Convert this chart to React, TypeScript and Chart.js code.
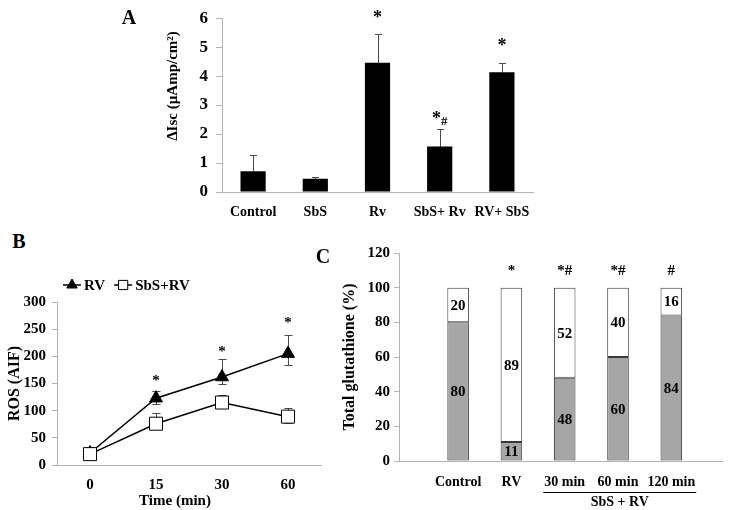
import React, { useEffect, useRef } from 'react';
import { Chart, registerables } from 'chart.js';
import { drawPoint } from 'chart.js/helpers';

Chart.register(...registerables);

const FONT = '"Liberation Serif", "Times New Roman", serif';
const AXIS = '#b3b3b3';
const ERR = '#4a4a4a';

// ---------- Panel A ----------
const aCategories = ['Control', 'SbS', 'Rv', 'SbS+ Rv', 'RV+ SbS'];
const aValues = [0.72, 0.46, 4.46, 1.57, 4.13];
const aErrPlus = [0.56, 0.06, 1.0, 0.59, 0.33];
const aMarks = ['', '', '*', '*#', '*'];
const aMarkLevels = [null, null, 6.1, 2.62, 5.15];
const aYTitle = 'ΔIsc (µAmp/cm²)';

// ---------- Panel B ----------
const bTimes = ['0', '15', '30', '60'];
const bRV = [22, 123, 162, 205];
const bRVPlus = [11, 13, 34, 35];
const bRVMinus = [0, 10, 13, 21];
const bSbSRV = [20, 76, 115, 89];
const bSbSRVPlus = [5, 20, 13, 16];
const bSbSRVMinus = [0, 0, 0, 11];
const bMarks = ['', '*', '*', '*'];
const bMarkLevels = [null, 160, 213, 267];
const bSeriesNames = ['RV', 'SbS+RV'];
const bXTitle = 'Time (min)';

// ---------- Panel C ----------
const cCategories = ['Control', 'RV', '30 min', '60 min', '120 min'];
const cReduced = [80, 11, 48, 60, 84];
const cOxidized = [20, 89, 52, 40, 16];
const cMarks = ['', '*', '*#', '*#', '#'];
const cMarkLevel = 111;
const cGroupLabel = 'SbS + RV';
const cGroupFrom = 2;
const cGroupTo = 4;

const bold = (size: number) => ({ family: FONT, size, weight: 'bold' as const });

function drawMark(ctx: CanvasRenderingContext2D, text: string, x: number, y: number, starPx: number, hashPx: number, hashDrop: number) {
  const parts = text.split('').map((c) => {
    const size = c === '*' ? starPx : hashPx;
    ctx.font = `bold ${size}px ${FONT}`;
    return { c, size, w: ctx.measureText(c).width };
  });
  const total = parts.reduce((s, p) => s + p.w, 0);
  const maxSize = Math.max(...parts.map((p) => p.size));
  const base = y + 0.45 * maxSize;
  let cx = x - total / 2;
  ctx.fillStyle = '#000';
  ctx.textAlign = 'left';
  ctx.textBaseline = 'alphabetic';
  for (const p of parts) {
    ctx.font = `bold ${p.size}px ${FONT}`;
    ctx.fillText(p.c, cx, base + (p.c === '#' ? hashDrop : 0));
    cx += p.w;
  }
}

function marksPlugin(id: string, marks: string[], levels: (number | null)[], starPx: number, hashPx: number, hashDrop: number) {
  return {
    id,
    afterDraw(chart: any) {
      const ctx = chart.ctx;
      const xs = chart.scales.x;
      const ys = chart.scales.y;
      ctx.save();
      marks.forEach((m, i) => {
        const lv = levels[i];
        if (!m || lv === null || lv === undefined) return;
        drawMark(ctx, m, xs.getPixelForValue(i), ys.getPixelForValue(lv), starPx, hashPx, hashDrop);
      });
      ctx.restore();
    },
  };
}

type ErrSpec = { values: number[]; plus: number[]; minus: number[] };
function errorBarsPlugin(id: string, specs: ErrSpec[], cap: number) {
  return {
    id,
    beforeDatasetsDraw(chart: any) {
      const ctx = chart.ctx;
      const xs = chart.scales.x;
      const ys = chart.scales.y;
      ctx.save();
      ctx.strokeStyle = ERR;
      ctx.lineWidth = 1;
      specs.forEach((s) => {
        s.values.forEach((v, i) => {
          const x = Math.round(xs.getPixelForValue(i)) + 0.5;
          const top = Math.round(ys.getPixelForValue(v + s.plus[i])) + 0.5;
          const bot = Math.round(ys.getPixelForValue(v - s.minus[i])) + 0.5;
          ctx.beginPath();
          ctx.moveTo(x, bot);
          ctx.lineTo(x, top);
          if (s.plus[i] > 0) {
            ctx.moveTo(x - cap / 2, top);
            ctx.lineTo(x + cap / 2, top);
          }
          if (s.minus[i] > 0) {
            ctx.moveTo(x - cap / 2, bot);
            ctx.lineTo(x + cap / 2, bot);
          }
          ctx.stroke();
        });
      });
      ctx.restore();
    },
  };
}

// free-standing axis title (placed where the figure has it, not at the axis centre)
function freeTitlePlugin(id: string, text: string, x: number, y: number, size: number, rotate: boolean) {
  return {
    id,
    afterDraw(chart: any) {
      const ctx = chart.ctx;
      ctx.save();
      ctx.translate(x, y);
      if (rotate) ctx.rotate(-Math.PI / 2);
      ctx.font = `bold ${size}px ${FONT}`;
      ctx.fillStyle = '#000';
      ctx.textAlign = 'center';
      ctx.textBaseline = 'middle';
      ctx.fillText(text, 0, 0);
      ctx.restore();
    },
  };
}

function makeA(): any {
  return {
    type: 'bar',
    data: {
      labels: aCategories,
      datasets: [
        { data: aValues, backgroundColor: '#000', borderWidth: 0, barPercentage: 0.9, categoryPercentage: 0.45 },
      ],
    },
    options: {
      responsive: false,
      animation: false,
      layout: { padding: { top: 9, right: 17, left: 0, bottom: 0 }, autoPadding: false },
      plugins: { legend: { display: false }, tooltip: { enabled: false } },
      scales: {
        x: {
          grid: { display: false, drawTicks: false },
          border: { color: AXIS },
          ticks: { font: bold(14), color: '#000', padding: 12, maxRotation: 0, autoSkip: false },
          afterFit: (s: any) => { s.height = 40; },
        },
        y: {
          min: 0,
          max: 6,
          ticks: { stepSize: 1, font: bold(17), color: '#000', padding: 8 },
          grid: { drawOnChartArea: false, tickLength: 6, color: AXIS },
          border: { color: AXIS },
          afterFit: (s: any) => { s.width = 122; },
        },
      },
    },
    plugins: [
      errorBarsPlugin('errA', [{ values: aValues, plus: aErrPlus, minus: aValues.map(() => 0) }], 7),
      marksPlugin('marksA', aMarks, aMarkLevels, 18, 13, 1),
      freeTitlePlugin('titleA', aYTitle, 73, 86, 15, true),
    ],
  };
}

const legendLinePlugin = {
  id: 'legendLineB',
  afterDraw(chart: any) {
    const ctx = chart.ctx;
    ctx.save();
    let x = 63;
    const y = 30;
    chart.data.datasets.forEach((ds: any) => {
      ctx.strokeStyle = '#000';
      ctx.lineWidth = 1.5;
      ctx.beginPath();
      ctx.moveTo(x, y);
      ctx.lineTo(x + 18, y);
      ctx.stroke();
      ctx.fillStyle = ds.pointBackgroundColor;
      ctx.strokeStyle = '#000';
      ctx.lineWidth = 1;
      drawPoint(ctx, { pointStyle: ds.pointStyle, rotation: 0, radius: ds.pointStyle === 'rect' ? 6.5 : 6, borderWidth: 1 }, x + 9, y);
      ctx.font = `bold 15px ${FONT}`;
      ctx.fillStyle = '#000';
      ctx.textAlign = 'left';
      ctx.textBaseline = 'middle';
      ctx.fillText(ds.label, x + 21, y + 1);
      x += 21 + ctx.measureText(ds.label).width + 9;
    });
    ctx.restore();
  },
};

function makeB(): any {
  return {
    type: 'line',
    data: {
      labels: bTimes,
      datasets: [
        {
          label: bSeriesNames[0], data: bRV, borderColor: '#000', borderWidth: 1.5,
          pointStyle: 'triangle', pointRadius: 7.5, pointBackgroundColor: '#000', pointBorderColor: '#000', pointBorderWidth: 1, order: 2,
        },
        {
          label: bSeriesNames[1], data: bSbSRV, borderColor: '#000', borderWidth: 1.5,
          pointStyle: 'rect', pointRadius: 9.2, pointBackgroundColor: '#fff', pointBorderColor: '#000', pointBorderWidth: 1, order: 1,
        },
      ],
    },
    options: {
      responsive: false,
      animation: false,
      layout: { padding: { top: 47, right: 9, left: 0, bottom: 0 }, autoPadding: false },
      plugins: { legend: { display: false }, tooltip: { enabled: false } },
      scales: {
        x: {
          offset: true,
          grid: { display: false, drawTicks: false },
          border: { color: AXIS },
          ticks: { font: bold(15), color: '#000', padding: 11, maxRotation: 0, autoSkip: false },
          afterFit: (s: any) => { s.height = 45; },
        },
        y: {
          min: 0,
          max: 300,
          ticks: { stepSize: 50, font: bold(15), color: '#000', padding: 6 },
          grid: { drawOnChartArea: false, tickLength: 5, color: AXIS },
          border: { color: AXIS },
          title: { display: true, text: 'ROS (AIF)', font: bold(16), color: '#000', padding: { top: 5, bottom: 0 } },
          afterFit: (s: any) => { s.width = 57; },
        },
      },
    },
    plugins: [
      errorBarsPlugin('errB', [
        { values: bRV, plus: bRVPlus, minus: bRVMinus },
        { values: bSbSRV, plus: bSbSRVPlus, minus: bSbSRVMinus },
      ], 8),
      marksPlugin('marksB', bMarks, bMarkLevels, 15, 15, 0),
      legendLinePlugin,
      freeTitlePlugin('titleBx', bXTitle, 175, 246, 15, false),
    ],
  };
}

const segmentLabelsPlugin = {
  id: 'segLabelsC',
  afterDatasetsDraw(chart: any) {
    const ctx = chart.ctx;
    ctx.save();
    ctx.font = `bold 15px ${FONT}`;
    ctx.fillStyle = '#000';
    ctx.textAlign = 'center';
    ctx.textBaseline = 'middle';
    chart.data.datasets.forEach((ds: any, di: number) => {
      const meta = chart.getDatasetMeta(di);
      meta.data.forEach((el: any, i: number) => {
        const v = ds.data[i].y;
        ctx.fillText(String(v), el.x, (el.y + el.base) / 2 + 1);
      });
    });
    ctx.restore();
  },
};

const groupLabelPlugin = {
  id: 'groupC',
  afterDraw(chart: any) {
    const ctx = chart.ctx;
    const xs = chart.scales.x;
    const bottom = chart.chartArea.bottom;
    ctx.save();
    ctx.font = `bold 14px ${FONT}`;
    const w1 = ctx.measureText(cCategories[cGroupFrom]).width;
    const w2 = ctx.measureText(cCategories[cGroupTo]).width;
    const x1 = xs.getPixelForValue(cGroupFrom) - w1 / 2 - 1;
    const x2 = xs.getPixelForValue(cGroupTo) + w2 / 2 + 1;
    ctx.strokeStyle = '#000';
    ctx.lineWidth = 1;
    ctx.beginPath();
    ctx.moveTo(x1, bottom + 31.5);
    ctx.lineTo(x2, bottom + 31.5);
    ctx.stroke();
    ctx.fillStyle = '#000';
    ctx.textAlign = 'center';
    ctx.textBaseline = 'middle';
    ctx.fillText(cGroupLabel, (x1 + x2) / 2, bottom + 41);
    ctx.restore();
  },
};

function makeC(): any {
  return {
    type: 'bar',
    data: {
      datasets: [
        {
          data: cReduced.map((v, i) => ({ x: i, y: v })), backgroundColor: '#a6a6a6', borderColor: '#3a3a3a',
          borderWidth: 1, borderSkipped: false, barPercentage: 0.45, categoryPercentage: 0.9,
        },
        {
          data: cOxidized.map((v, i) => ({ x: i, y: v })), backgroundColor: '#ffffff', borderColor: '#3a3a3a',
          borderWidth: 1, borderSkipped: false, barPercentage: 0.45, categoryPercentage: 0.9,
        },
      ],
    },
    options: {
      responsive: false,
      animation: false,
      layout: { padding: { top: 12, right: 12, left: 0, bottom: 0 }, autoPadding: false },
      plugins: { legend: { display: false }, tooltip: { enabled: false } },
      scales: {
        x: {
          type: 'linear',
          stacked: true,
          min: -0.503,
          max: 4.345,
          afterBuildTicks: (s: any) => { s.ticks = cCategories.map((_, i) => ({ value: i })); },
          grid: { display: false, drawTicks: false },
          border: { color: AXIS },
          ticks: {
            font: bold(14), color: '#000', padding: 13, maxRotation: 0, autoSkip: false,
            callback: (v: any) => cCategories[v] ?? '',
          },
          afterFit: (s: any) => { s.height = 49; },
        },
        y: {
          stacked: true,
          min: 0,
          max: 120,
          ticks: { stepSize: 20, font: bold(15), color: '#000', padding: 4 },
          grid: { drawOnChartArea: false, tickLength: 5, color: AXIS },
          border: { color: AXIS },
          title: { display: true, text: 'Total glutathione (%)', font: bold(16), color: '#000', padding: { top: 10, bottom: 0 } },
          afterFit: (s: any) => { s.width = 69; },
        },
      },
    },
    plugins: [
      segmentLabelsPlugin,
      marksPlugin('marksC', cMarks, cMarks.map(() => cMarkLevel), 15, 15, 0),
      groupLabelPlugin,
    ],
  };
}

function ChartBox({ left, top, width, height, make }: { left: number; top: number; width: number; height: number; make: () => any }) {
  const ref = useRef<HTMLCanvasElement>(null);
  useEffect(() => {
    const chart = new Chart(ref.current as HTMLCanvasElement, make());
    return () => chart.destroy();
  }, []);
  return (
    <canvas
      ref={ref}
      width={width}
      height={height}
      style={{ position: 'absolute', left, top, width, height, display: 'block' }}
    />
  );
}

function PanelLabel({ text, cx, cy }: { text: string; cx: number; cy: number }) {
  return (
    <div
      style={{
        position: 'absolute', left: cx - 20, top: cy - 10, width: 40, textAlign: 'center',
        fontFamily: FONT, fontWeight: 'bold', fontSize: 20, lineHeight: '20px', color: '#000',
      }}
    >
      {text}
    </div>
  );
}

export default function App() {
  return (
    <div style={{ position: 'absolute', left: 0, top: 0, width: 734, height: 510, background: '#fff', overflow: 'hidden' }}>
      <ChartBox left={100} top={0} width={450} height={232} make={makeA} />
      <ChartBox left={0} top={255} width={330} height={255} make={makeB} />
      <ChartBox left={330} top={240} width={404} height={270} make={makeC} />
      <PanelLabel text="A" cx={129} cy={16.5} />
      <PanelLabel text="B" cx={19} cy={241} />
      <PanelLabel text="C" cx={323} cy={256} />
    </div>
  );
}
